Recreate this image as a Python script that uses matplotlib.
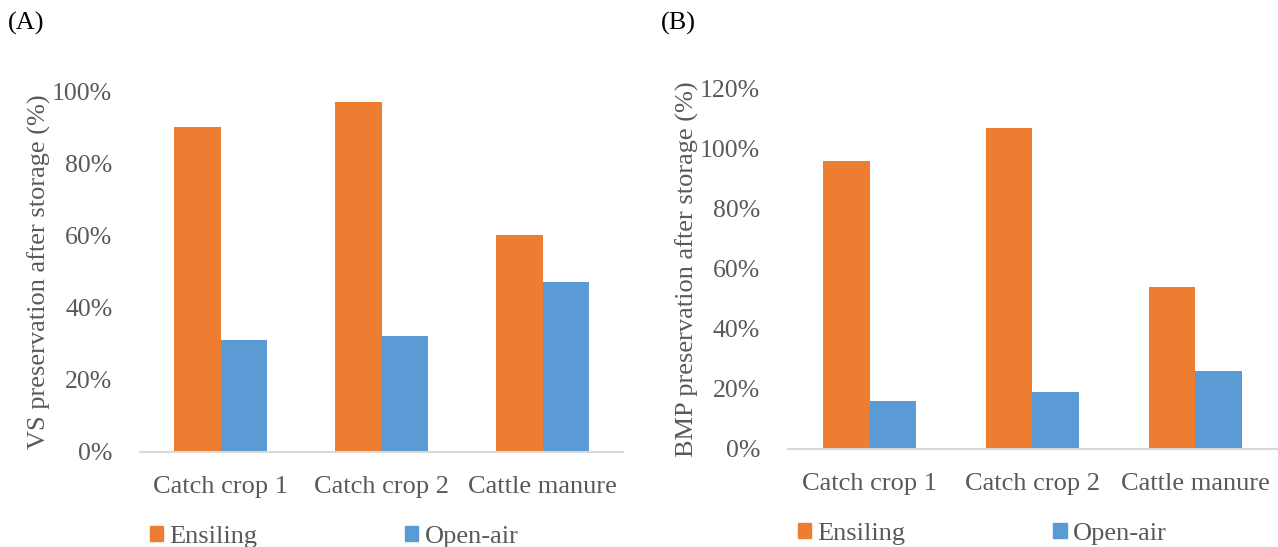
import matplotlib
matplotlib.use('Agg')
import matplotlib.pyplot as plt
import numpy as np
from matplotlib.patches import Patch
from matplotlib.ticker import PercentFormatter

categories = ['Catch crop 1', 'Catch crop 2', 'Cattle manure']
series = ['Ensiling', 'Open-air']
vs_ensiling = [90, 97, 60]
vs_openair = [31, 32, 47]
bmp_ensiling = [96, 107, 54]
bmp_openair = [16, 19, 26]

ORANGE = '#ED7D31'
BLUE = '#5B9BD5'
GREY = '#595959'

plt.rcParams['font.family'] = ['Liberation Serif', 'DejaVu Serif']

fig = plt.figure(figsize=(12.78, 5.47), dpi=100)


def draw_panel(ax, ens, opn, ymax, ylabel):
    x = np.arange(len(categories))
    w = 0.287
    ax.bar(x - w / 2, ens, w, color=ORANGE, label=series[0])
    ax.bar(x + w / 2, opn, w, color=BLUE, label=series[1])
    ax.set_xlim(-0.5, len(categories) - 0.5)
    ax.set_ylim(0, ymax)
    ax.set_yticks(np.arange(0, ymax + 1, 20))
    ax.yaxis.set_major_formatter(PercentFormatter(decimals=0))
    ax.set_xticks(x)
    ax.set_xticklabels(categories)
    for s in ['top', 'right', 'left']:
        ax.spines[s].set_visible(False)
    ax.spines['bottom'].set_color('#D9D9D9')
    ax.spines['bottom'].set_linewidth(1.5)
    ax.tick_params(axis='both', length=0, colors=GREY)
    ax.tick_params(axis='y', labelsize=18.5, pad=20)
    ax.tick_params(axis='x', labelsize=19, pad=17)
    ax.set_ylabel(ylabel, fontsize=19, color=GREY, labelpad=1)
    handles = [Patch(color=ORANGE), Patch(color=BLUE)]
    ax.legend(handles, series, loc='upper left', bbox_to_anchor=(0.02, -0.205),
              ncol=2, frameon=False, fontsize=19, labelcolor=GREY,
              handlelength=0.5, handleheight=0.5, handletextpad=0.25,
              columnspacing=5.6, borderaxespad=0, borderpad=0)


ax1 = fig.add_axes([0.1096, 0.1737, 0.3779, 0.6599])
draw_panel(ax1, vs_ensiling, vs_openair, 100, 'VS preservation after storage (%)')

ax2 = fig.add_axes([0.6166, 0.1792, 0.3826, 0.6581])
draw_panel(ax2, bmp_ensiling, bmp_openair, 120, 'BMP preservation after storage (%)')

fig.text(0.006, 0.958, '(A)', fontsize=19, va='center', ha='left')
fig.text(0.517, 0.958, '(B)', fontsize=19, va='center', ha='left')

fig.savefig('out.png', dpi=100)
